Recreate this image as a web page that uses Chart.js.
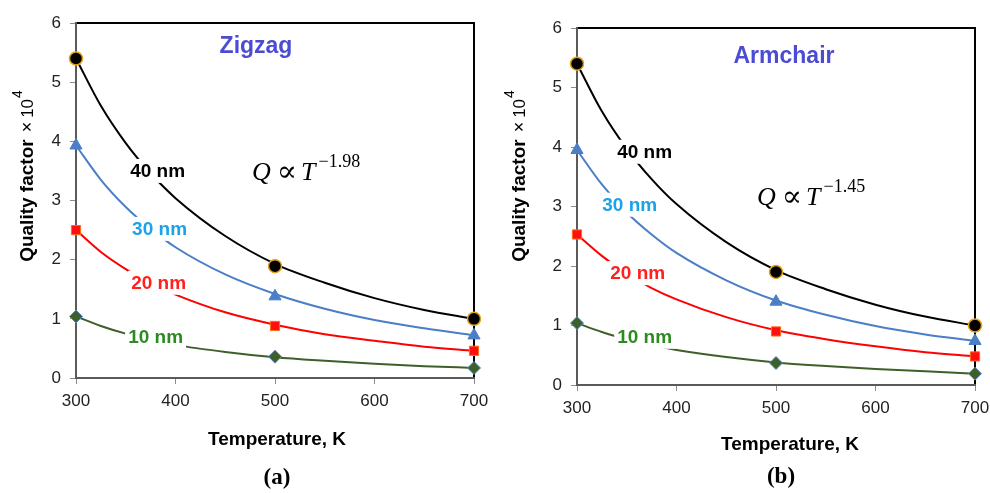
<!DOCTYPE html>
<html><head><meta charset="utf-8">
<script src="https://cdn.jsdelivr.net/npm/chart.js@4.4.1/dist/chart.umd.min.js"></script>
<style>
html,body{margin:0;padding:0;background:#fff;}
#wrap{position:relative;width:990px;height:493px;overflow:hidden;}
canvas{position:absolute;top:0;}
</style></head><body>
<div id="wrap">
<canvas id="ca" width="495" height="493" style="left:0"></canvas>
<canvas id="cb" width="495" height="493" style="left:495px"></canvas>
</div>
<script>
// ---------- data ----------
const TEMPS = [300, 500, 700];                       // marker temperatures (K)
const FIT_T = [300, 325, 350, 375, 400, 450, 500, 550, 600, 650, 700]; // trend-line sample temperatures
const X_TICKS = [300, 400, 500, 600, 700];
const Y_TICKS = [0, 1, 2, 3, 4, 5, 6];
const SIZES = ['40 nm', '30 nm', '20 nm', '10 nm'];

// (a) Zigzag — markers
const ZZ_40 = [5.40, 1.89, 1.00];
const ZZ_30 = [3.93, 1.38, 0.72];
const ZZ_20 = [2.50, 0.88, 0.46];
const ZZ_10 = [1.04, 0.36, 0.17];
// (a) Zigzag — trend lines
const ZZ_40_FIT = [5.40, 4.60, 3.97, 3.46, 3.04, 2.40, 1.93, 1.61, 1.35, 1.15, 1.00];
const ZZ_30_FIT = [3.93, 3.35, 2.89, 2.52, 2.21, 1.75, 1.42, 1.17, 0.98, 0.84, 0.72];
const ZZ_20_FIT = [2.50, 2.13, 1.84, 1.60, 1.41, 1.11, 0.90, 0.74, 0.63, 0.53, 0.46];
const ZZ_10_FIT = [1.04, 0.88, 0.75, 0.65, 0.56, 0.44, 0.35, 0.29, 0.24, 0.20, 0.17];

// (b) Armchair — markers
const AC_40 = [5.40, 1.90, 1.00];
const AC_30 = [3.95, 1.40, 0.74];
const AC_20 = [2.53, 0.90, 0.48];
const AC_10 = [1.04, 0.37, 0.19];
// (b) Armchair — trend lines
const AC_40_FIT = [5.40, 4.60, 3.97, 3.46, 3.04, 2.40, 1.93, 1.61, 1.35, 1.15, 1.00];
const AC_30_FIT = [3.95, 3.37, 2.90, 2.53, 2.22, 1.76, 1.42, 1.18, 0.99, 0.85, 0.74];
const AC_20_FIT = [2.53, 2.17, 1.87, 1.63, 1.44, 1.14, 0.92, 0.77, 0.65, 0.55, 0.48];
const AC_10_FIT = [1.04, 0.89, 0.77, 0.67, 0.59, 0.47, 0.38, 0.32, 0.27, 0.23, 0.19];

// ---------- styles ----------
const SANS = "'Liberation Sans', Arial, sans-serif";
const SERIF = "'Liberation Serif', 'Times New Roman', serif";
const STYLE = [
  {line:'#000000', style:'circle',   r:6.5, bg:'#000000', bd:'#E3A21A', bw:1.5, txt:'#000000'},
  {line:'#4A7EC6', style:'triangle', r:7,   bg:'#4A7EC6', bd:'#4A7EC6', bw:1,   txt:'#1AA2EA'},
  {line:'#FF0000', style:'rect',     r:6.5, bg:'#FF1010', bd:'#FF6A1A', bw:1,   txt:'#FF2020'},
  {line:'#3E5F2A', style:'rectRot',  r:6.5, bg:'#3E5F2A', bd:'#5B8BC8', bw:1,   txt:'#2E8B22'}
];

function buildDatasets(fits, marks) {
  const ds = [];
  STYLE.forEach((st, i) => {
    ds.push({data: FIT_T.map((t, j) => ({x: t, y: fits[i][j]})), borderColor: st.line,
      borderWidth: 2, pointRadius: 0, cubicInterpolationMode: 'monotone', fill: false,
      clip: false, order: 1});
  });
  STYLE.forEach((st, i) => {
    ds.push({data: TEMPS.map((t, j) => ({x: t, y: marks[i][j]})), showLine: false,
      pointStyle: st.style, pointRadius: st.r, backgroundColor: st.bg, borderColor: st.bd,
      pointBorderWidth: st.bw, clip: false, order: 0});
  });
  return ds;
}

function drawMath(ctx, x, y, exp) {
  ctx.save();
  ctx.fillStyle = '#000';
  ctx.textAlign = 'left'; ctx.textBaseline = 'alphabetic';
  ctx.font = "italic 26px " + SERIF;
  ctx.fillText('Q', x, y);
  let cx = x + ctx.measureText('Q').width + 6;
  ctx.font = "30px 'DejaVu Serif', " + SERIF;
  ctx.fillText('\u221D', cx, y + 1);
  cx += ctx.measureText('\u221D').width + 4;
  ctx.font = "italic 26px " + SERIF;
  ctx.fillText('T', cx, y);
  cx += ctx.measureText('T').width + 3;
  ctx.font = "18px " + SERIF;
  ctx.fillText(exp, cx, y - 13);
  ctx.restore();
}

function drawYTitle(ctx, x, cy) {
  ctx.save();
  const parts = [
    {t:'Quality factor', f:'bold 19px ' + SANS, dy:0, gap:7},
    {t:'\u00D7', f:'18px ' + SANS, dy:0, gap:4},
    {t:'10', f:'17px ' + SANS, dy:0, gap:1},
    {t:'4', f:'14px ' + SANS, dy:-11, gap:0}
  ];
  let total = 0;
  parts.forEach(p => { ctx.font = p.f; p.w = ctx.measureText(p.t).width; total += p.w + p.gap; });
  ctx.translate(x, cy + total / 2);
  ctx.rotate(-Math.PI / 2);
  ctx.fillStyle = '#000';
  ctx.textAlign = 'left'; ctx.textBaseline = 'alphabetic';
  let px = 0;
  parts.forEach(p => { ctx.font = p.f; ctx.fillText(p.t, px, p.dy); px += p.w + p.gap; });
  ctx.restore();
}

function makeChart(id, fits, marks, deco) {
  const decoPlugin = {
    id: 'deco',
    beforeDatasetsDraw(chart) {
      const {ctx, chartArea: a} = chart;
      ctx.save();
      ctx.lineCap = 'square';
      ctx.strokeStyle = '#000'; ctx.lineWidth = 2;
      ctx.beginPath();
      ctx.moveTo(a.left, a.top); ctx.lineTo(a.right, a.top); ctx.lineTo(a.right, a.bottom);
      ctx.stroke();
      ctx.strokeStyle = '#5a5a5a'; ctx.lineWidth = 2;
      ctx.beginPath();
      ctx.moveTo(a.left, a.top); ctx.lineTo(a.left, a.bottom); ctx.lineTo(a.right, a.bottom);
      ctx.stroke();
      ctx.restore();
    },
    afterDatasetsDraw(chart) {
      const {ctx} = chart;
      const xs = chart.scales.x, ys = chart.scales.y;
      ctx.save();
      ctx.font = 'bold 19px ' + SANS;
      ctx.textAlign = 'center'; ctx.textBaseline = 'middle';
      deco.labels.forEach((lb, i) => {
        const px = xs.getPixelForValue(lb[0]), py = ys.getPixelForValue(lb[1]);
        const w = ctx.measureText(SIZES[i]).width;
        ctx.fillStyle = '#fff';
        ctx.fillRect(px - w / 2 - 3, py - 12, w + 6, 24);
        ctx.fillStyle = STYLE[i].txt;
        ctx.fillText(SIZES[i], px, py + 1);
      });
      ctx.font = 'bold 23px ' + SANS;
      ctx.fillStyle = '#4B4BD3';
      ctx.fillText(deco.name, deco.namePos[0], deco.namePos[1]);
      ctx.restore();
      drawMath(ctx, deco.mathPos[0], deco.mathPos[1], deco.exp);
    },
    afterDraw(chart) {
      const {ctx} = chart;
      drawYTitle(ctx, deco.yTitle[0], deco.yTitle[1]);
      ctx.save();
      ctx.fillStyle = '#000';
      ctx.textAlign = 'center'; ctx.textBaseline = 'middle';
      ctx.font = 'bold 19px ' + SANS;
      ctx.fillText('Temperature, K', deco.xTitle[0], deco.xTitle[1]);
      ctx.font = 'bold 23px ' + SERIF;
      ctx.fillText(deco.tag, deco.tagPos[0], deco.tagPos[1]);
      ctx.restore();
    }
  };
  return new Chart(document.getElementById(id), {
    type: 'line',
    data: {datasets: buildDatasets(fits, marks)},
    options: {
      responsive: false, animation: false,
      layout: {padding: deco.pad},
      plugins: {legend: {display: false}, tooltip: {enabled: false}},
      scales: {
        x: {
          type: 'linear', min: 300, max: 700,
          afterBuildTicks: s => { s.ticks = X_TICKS.map(v => ({value: v})); },
          afterFit: s => { s.height = 30; s.paddingLeft = 0; s.paddingRight = 0; },
          grid: {drawOnChartArea: false, tickLength: 6, color: '#8a8a8a', tickColor: '#8a8a8a'},
          border: {display: false},
          ticks: {font: {size: 17, family: SANS}, color: '#222', padding: 7, maxRotation: 0}
        },
        y: {
          type: 'linear', min: 0, max: 6,
          afterBuildTicks: s => { s.ticks = Y_TICKS.map(v => ({value: v})); },
          afterFit: s => { s.width = 36; s.paddingTop = 0; s.paddingBottom = 0; },
          grid: {drawOnChartArea: false, tickLength: 6, color: '#8a8a8a', tickColor: '#8a8a8a'},
          border: {display: false},
          ticks: {font: {size: 17, family: SANS}, color: '#222', padding: 9}
        }
      }
    },
    plugins: [decoPlugin]
  });
}

makeChart('ca',
  [ZZ_40_FIT, ZZ_30_FIT, ZZ_20_FIT, ZZ_10_FIT],
  [ZZ_40, ZZ_30, ZZ_20, ZZ_10],
  {pad: {left: 40, right: 21, top: 23, bottom: 85},
   labels: [[382, 3.50], [384, 2.52], [383, 1.61], [380, 0.70]],
   name: 'Zigzag', namePos: [256, 47], mathPos: [252, 180], exp: '\u22121.98',
   yTitle: [33, 176], xTitle: [277, 440], tag: '(a)', tagPos: [277, 478]});

makeChart('cb',
  [AC_40_FIT, AC_30_FIT, AC_20_FIT, AC_10_FIT],
  [AC_40, AC_30, AC_20, AC_10],
  {pad: {left: 46, right: 15, top: 28, bottom: 78},
   labels: [[368, 3.92], [353, 3.03], [361, 1.88], [368, 0.81]],
   name: 'Armchair', namePos: [289, 57], mathPos: [262, 205], exp: '\u22121.45',
   yTitle: [30, 176], xTitle: [295, 445], tag: '(b)', tagPos: [286, 477]});
</script>
</body></html>
